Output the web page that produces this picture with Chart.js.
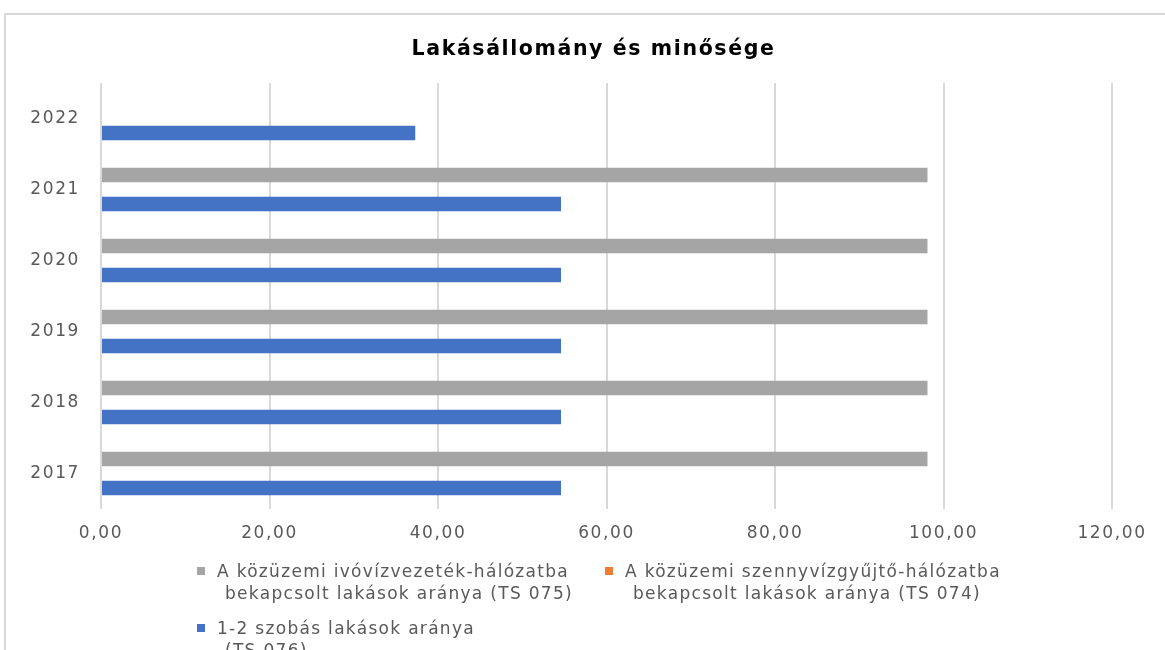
<!DOCTYPE html>
<html>
<head>
<meta charset="utf-8">
<script src="https://cdn.jsdelivr.net/npm/chart.js@4/dist/chart.umd.min.js"></script>
<style>
  html, body { margin: 0; padding: 0; background: #fff; width: 1165px; height: 650px; overflow: hidden; }
  #wrap { position: absolute; left: 0; top: 0; width: 1165px; height: 650px; }
  #frame { position: absolute; left: 4px; top: 13px; width: 1165px; height: 700px;
           border-left: 2px solid #d9d9d9; border-top: 2px solid #d9d9d9; pointer-events: none; }
  canvas { position: absolute; left: 0; top: 0; }
  .leg { position: absolute; font-family: "DejaVu Sans", sans-serif; font-size: 17px; color: #595959;
         line-height: 22px; white-space: nowrap; letter-spacing: 1.3px; }
  .leg .sw { position: absolute; left: 0; top: 7px; width: 8px; height: 8px; }
  .leg .tx { position: absolute; left: 20px; top: 0; }
  .leg .tx span { display: block; }
  .leg .tx span.l2 { padding-left: 8px; }
</style>
</head>
<body>
<div id="wrap">
  <canvas id="c" width="1165" height="650"></canvas>
  <div id="frame"></div>
  <div id="legend"></div>
</div>
<script>
// ---- data ----
const categories = ['2022', '2021', '2020', '2019', '2018', '2017'];
const seriesNames = [
  ['A közüzemi ivóvízvezeték-hálózatba', 'bekapcsolt lakások aránya (TS 075)'],
  ['A közüzemi szennyvízgyűjtő-hálózatba', 'bekapcsolt lakások aránya (TS 074)'],
  ['1-2 szobás lakások aránya', '(TS 076)']
];
const ivovizValues    = [null, 98.1, 98.1, 98.1, 98.1, 98.1];
const szennyvizValues = [null, null, null, null, null, null];
const szobasValues    = [37.3, 54.6, 54.6, 54.6, 54.6, 54.6];
const xTicks = [0, 20, 40, 60, 80, 100, 120];
const chartTitle = 'Lakásállomány és minősége';

const colors = ['#A5A5A5', '#ED7D31', '#4472C4'];

const spacingPlugin = {
  id: 'spacing',
  beforeUpdate(chart) { chart.ctx.letterSpacing = '1.6px'; },
  beforeDraw(chart) { chart.ctx.letterSpacing = '1.6px'; },
  afterLayout(chart) {
    const t = chart.titleBlock;
    if (t) { t.left = 22; t.right = 1165; }
  }
};

new Chart(document.getElementById('c'), {
  type: 'bar',
  data: {
    labels: categories,
    datasets: [
      { label: seriesNames[0].join(' '), data: ivovizValues, backgroundColor: colors[0] },
      { label: seriesNames[1].join(' '), data: szennyvizValues, backgroundColor: colors[1] },
      { label: seriesNames[2].join(' '), data: szobasValues, backgroundColor: colors[2] }
    ]
  },
  plugins: [spacingPlugin],
  options: {
    indexAxis: 'y',
    responsive: false,
    animation: false,
    devicePixelRatio: 1,
    datasets: { bar: { categoryPercentage: 0.61, barPercentage: 1.0 } },
    layout: { padding: { left: 0, right: 53, top: 0, bottom: 101 } },
    plugins: {
      legend: { display: false },
      tooltip: { enabled: false },
      title: {
        display: true,
        text: chartTitle,
        color: '#000',
        font: { family: 'DejaVu Sans', size: 20.5, weight: 'bold' },
        padding: { top: 37, bottom: 21.4 }
      }
    },
    scales: {
      x: {
        min: 0, max: 120,
        afterBuildTicks: (s) => { s.ticks = xTicks.map(v => ({ value: v })); },
        afterFit: (s) => { s.height = 40; },
        grid: { color: '#d9d9d9', lineWidth: 2, drawTicks: false },
        border: { display: false },
        ticks: {
          padding: 14,
          color: '#595959',
          font: { family: 'DejaVu Sans', size: 17 },
          callback: (v) => Number(v).toFixed(2).replace('.', ',')
        }
      },
      y: {
        afterFit: (s) => { s.width = 101; },
        grid: { display: false, drawTicks: false },
        border: { display: false },
        ticks: {
          padding: 21,
          color: '#595959',
          font: { family: 'DejaVu Sans', size: 17 }
        }
      }
    }
  }
});

// HTML legend
const legPos = [
  { left: 197, top: 560 },
  { left: 605, top: 560 },
  { left: 197, top: 617 }
];
const legend = document.getElementById('legend');
seriesNames.forEach((lines, i) => {
  const d = document.createElement('div');
  d.className = 'leg';
  d.style.left = legPos[i].left + 'px';
  d.style.top = legPos[i].top + 'px';
  const sw = document.createElement('div');
  sw.className = 'sw';
  sw.style.background = colors[i];
  d.appendChild(sw);
  const tx = document.createElement('div');
  tx.className = 'tx';
  lines.forEach((t, j) => {
    const s = document.createElement('span');
    s.textContent = t;
    if (j > 0) s.className = 'l2';
    tx.appendChild(s);
  });
  d.appendChild(tx);
  legend.appendChild(d);
});
</script>
</body>
</html>
